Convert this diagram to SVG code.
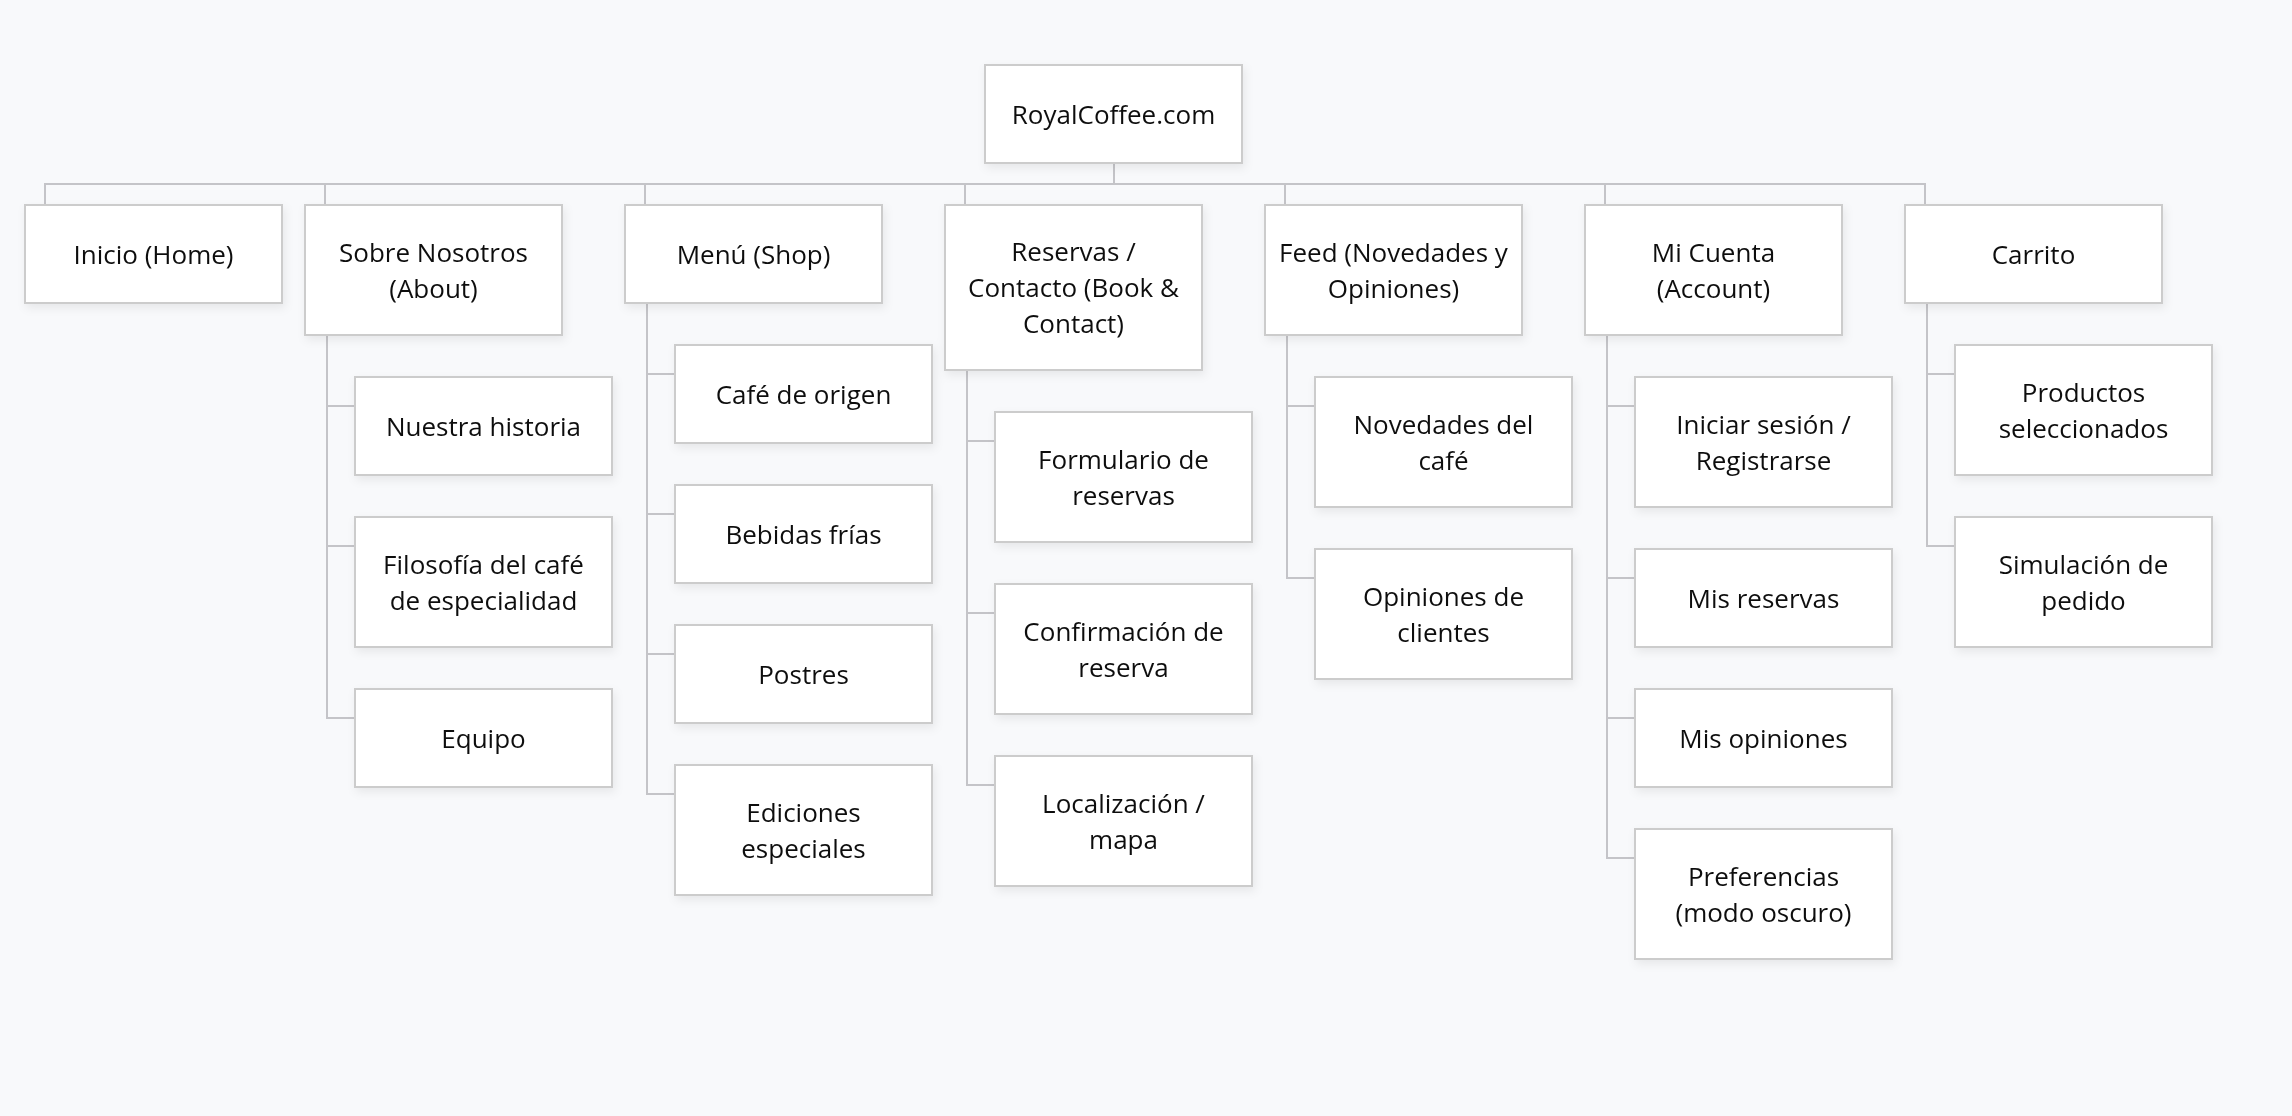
<svg xmlns="http://www.w3.org/2000/svg" width="2292" height="1116" viewBox="0 0 2292 1116">
<style>
.bg{fill:#f8f9fb}
.box{fill:#ffffff;stroke:#cccccc;stroke-width:2}
.t{font-family:"Open Sans","Noto Sans","Liberation Sans",sans-serif;font-size:26px;fill:#111111;text-anchor:middle}
.c{fill:none;stroke:#c4c4c8;stroke-width:2}
</style>
<defs>
<filter id="sh" x="-10%" y="-10%" width="130%" height="140%">
<feDropShadow dx="2" dy="4" stdDeviation="5" flood-color="#000" flood-opacity="0.07"/>
</filter>
</defs>
<rect class="bg" x="0" y="0" width="2292" height="1116"/>
<g id="connectors">
<path class="c" d="M1114 163V184"/>
<path class="c" d="M45 205V184H1925V205"/>
<path class="c" d="M325 184V205M645 184V205M965 184V205M1285 184V205M1605 184V205"/>
<path class="c" d="M327 335V406H355M327 335V546H355M327 335V718H355"/>
<path class="c" d="M647 303V374H675M647 303V514H675M647 303V654H675M647 303V794H675"/>
<path class="c" d="M967 370V441H995M967 370V613H995M967 370V785H995"/>
<path class="c" d="M1287 335V406H1315M1287 335V578H1315"/>
<path class="c" d="M1607 335V406H1635M1607 335V578H1635M1607 335V718H1635M1607 335V858H1635"/>
<path class="c" d="M1927 303V374H1955M1927 303V546H1955"/>
</g>
<g filter="url(#sh)">
<g id="root"><rect class="box" x="985" y="65" width="257" height="98"/><text class="t" x="1113.5" y="123.5">RoyalCoffee.com</text></g>
<g id="inicio"><rect class="box" x="25" y="205" width="257" height="98"/><text class="t" x="153.5" y="263.5">Inicio (Home)</text></g>
<g id="sobre"><rect class="box" x="305" y="205" width="257" height="130"/><text class="t" x="433.5" y="261.5">Sobre Nosotros</text><text class="t" x="433.5" y="297.5">(About)</text></g>
<g id="menu"><rect class="box" x="625" y="205" width="257" height="98"/><text class="t" x="753.5" y="263.5">Menú (Shop)</text></g>
<g id="reservas"><rect class="box" x="945" y="205" width="257" height="165"/><text class="t" x="1073.5" y="261">Reservas /</text><text class="t" x="1073.5" y="297">Contacto (Book &amp;</text><text class="t" x="1073.5" y="333">Contact)</text></g>
<g id="feed"><rect class="box" x="1265" y="205" width="257" height="130"/><text class="t" x="1393.5" y="261.5">Feed (Novedades y</text><text class="t" x="1393.5" y="297.5">Opiniones)</text></g>
<g id="cuenta"><rect class="box" x="1585" y="205" width="257" height="130"/><text class="t" x="1713.5" y="261.5">Mi Cuenta</text><text class="t" x="1713.5" y="297.5">(Account)</text></g>
<g id="carrito"><rect class="box" x="1905" y="205" width="257" height="98"/><text class="t" x="2033.5" y="263.5">Carrito</text></g>

<g id="historia"><rect class="box" x="355" y="377" width="257" height="98"/><text class="t" x="483.5" y="435.5">Nuestra historia</text></g>
<g id="filosofia"><rect class="box" x="355" y="517" width="257" height="130"/><text class="t" x="483.5" y="573.5">Filosofía del café</text><text class="t" x="483.5" y="609.5">de especialidad</text></g>
<g id="equipo"><rect class="box" x="355" y="689" width="257" height="98"/><text class="t" x="483.5" y="747.5">Equipo</text></g>

<g id="origen"><rect class="box" x="675" y="345" width="257" height="98"/><text class="t" x="803.5" y="403.5">Café de origen</text></g>
<g id="bebidas"><rect class="box" x="675" y="485" width="257" height="98"/><text class="t" x="803.5" y="543.5">Bebidas frías</text></g>
<g id="postres"><rect class="box" x="675" y="625" width="257" height="98"/><text class="t" x="803.5" y="683.5">Postres</text></g>
<g id="ediciones"><rect class="box" x="675" y="765" width="257" height="130"/><text class="t" x="803.5" y="821.5">Ediciones</text><text class="t" x="803.5" y="857.5">especiales</text></g>

<g id="formulario"><rect class="box" x="995" y="412" width="257" height="130"/><text class="t" x="1123.5" y="468.5">Formulario de</text><text class="t" x="1123.5" y="504.5">reservas</text></g>
<g id="confirmacion"><rect class="box" x="995" y="584" width="257" height="130"/><text class="t" x="1123.5" y="640.5">Confirmación de</text><text class="t" x="1123.5" y="676.5">reserva</text></g>
<g id="localizacion"><rect class="box" x="995" y="756" width="257" height="130"/><text class="t" x="1123.5" y="812.5">Localización /</text><text class="t" x="1123.5" y="848.5">mapa</text></g>

<g id="novedades"><rect class="box" x="1315" y="377" width="257" height="130"/><text class="t" x="1443.5" y="433.5">Novedades del</text><text class="t" x="1443.5" y="469.5">café</text></g>
<g id="opiniones"><rect class="box" x="1315" y="549" width="257" height="130"/><text class="t" x="1443.5" y="605.5">Opiniones de</text><text class="t" x="1443.5" y="641.5">clientes</text></g>

<g id="sesion"><rect class="box" x="1635" y="377" width="257" height="130"/><text class="t" x="1763.5" y="433.5">Iniciar sesión /</text><text class="t" x="1763.5" y="469.5">Registrarse</text></g>
<g id="misreservas"><rect class="box" x="1635" y="549" width="257" height="98"/><text class="t" x="1763.5" y="607.5">Mis reservas</text></g>
<g id="misopiniones"><rect class="box" x="1635" y="689" width="257" height="98"/><text class="t" x="1763.5" y="747.5">Mis opiniones</text></g>
<g id="preferencias"><rect class="box" x="1635" y="829" width="257" height="130"/><text class="t" x="1763.5" y="885.5">Preferencias</text><text class="t" x="1763.5" y="921.5">(modo oscuro)</text></g>

<g id="productos"><rect class="box" x="1955" y="345" width="257" height="130"/><text class="t" x="2083.5" y="401.5">Productos</text><text class="t" x="2083.5" y="437.5">seleccionados</text></g>
<g id="simulacion"><rect class="box" x="1955" y="517" width="257" height="130"/><text class="t" x="2083.5" y="573.5">Simulación de</text><text class="t" x="2083.5" y="609.5">pedido</text></g>
</g>
</svg>
